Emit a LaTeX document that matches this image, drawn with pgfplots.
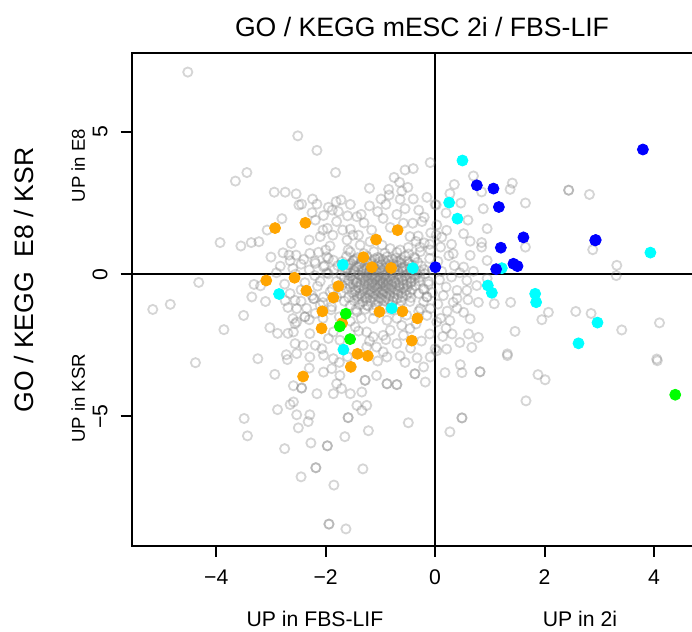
\documentclass[border=0pt]{standalone}
\usepackage{fontspec}
\setmainfont{Liberation Sans}
\usepackage{pgfplots}
\pgfplotsset{compat=1.18}

\definecolor{rorange}{RGB}{255,165,0}
\definecolor{rgreen}{RGB}{0,255,0}
\definecolor{rcyan}{RGB}{0,255,255}
\definecolor{rblue}{RGB}{0,0,255}

% background cloud of terms (grey open circles)
\pgfplotstableread{
x y
-4.52 7.10
-2.51 4.86
-3.65 3.27
-3.44 3.57
-2.94 2.88
-2.74 2.88
-2.54 2.82
-2.49 2.43
-3.07 1.55
-3.93 1.11
-3.55 0.99
-3.36 1.11
-3.22 1.14
-2.63 1.08
-2.78 0.75
-2.67 0.67
-2.54 0.67
-2.65 0.47
-2.83 0.28
-4.32 -0.29
-3.31 -0.36
-3.19 -0.41
-5.16 -1.24
-4.84 -1.06
-3.86 -1.95
-4.38 -3.11
-3.10 -0.96
-3.02 -1.88
-2.88 -2.08
-2.69 -2.08
-3.24 -2.97
-2.72 -2.83
-2.93 -3.52
-2.59 -3.92
-2.65 -4.58
-2.88 -4.76
-3.49 -5.07
-3.43 -5.68
-2.75 -6.13
-2.74 -0.93
-2.69 -1.17
-2.60 -1.56
-2.56 -1.74
-2.56 -2.44
-2.53 -4.94
-2.32 -5.18
-2.50 -5.40
-1.59 -5.04
-1.59 -5.04
-2.27 -5.93
-1.97 -6.03
-1.97 -6.03
-1.65 -5.71
-1.22 -5.50
-0.49 -5.22
-2.18 -6.80
-2.18 -6.80
-2.45 -7.12
-1.32 -6.84
-1.85 -7.41
-1.94 -8.78
-1.94 -8.78
-1.63 -8.95
0.46 -3.18
0.18 -3.46
0.49 -3.46
0.82 -3.43
0.82 -3.43
1.32 -2.86
1.88 -3.53
2.01 -3.71
1.66 -4.45
0.49 -5.05
0.49 -5.05
0.27 -5.54
4.06 -3.04
4.05 -2.98
-2.16 4.35
-1.82 3.57
-1.20 3.02
-0.09 3.92
-0.55 3.66
-0.40 3.71
-0.75 3.40
-0.65 3.23
-0.85 2.98
-0.61 2.92
-0.99 2.64
-0.84 2.78
-0.40 2.64
-0.64 2.63
-2.44 2.46
-2.24 2.64
-2.16 2.46
-2.25 2.16
-2.04 2.06
-1.95 2.35
-1.81 2.55
-1.72 2.61
-1.77 2.20
-1.88 2.25
-1.43 2.02
-2.19 1.90
-1.97 1.61
-2.10 1.32
-1.87 1.37
-1.69 1.55
-1.55 1.58
-1.50 1.37
-1.61 1.20
-1.40 1.37
-1.16 1.55
-0.95 1.96
-0.82 1.64
-0.58 1.79
-0.41 1.79
-0.24 1.85
-0.46 1.32
-0.31 1.34
-2.29 0.73
-2.13 0.77
-1.92 0.99
-1.98 0.61
-1.86 0.49
-2.19 0.38
-2.04 0.26
-1.59 0.85
-1.37 1.02
-1.19 1.14
-0.97 1.02
-0.82 0.90
-0.64 0.85
-0.49 0.94
-0.27 0.79
-0.09 0.85
-0.37 0.55
-1.49 0.49
-1.25 0.44
-1.01 0.55
-0.70 0.44
0.02 2.43
0.03 1.73
0.02 1.37
1.41 3.20
1.37 2.98
2.44 2.95
2.44 2.95
2.82 2.80
1.65 2.50
0.88 2.30
0.47 2.50
0.27 2.83
0.85 2.89
0.00 2.45
0.95 1.60
0.52 1.42
0.64 1.16
0.21 1.54
0.85 1.11
1.65 0.95
2.88 0.86
3.32 0.31
3.31 -0.05
0.33 0.72
0.64 0.66
0.95 0.48
0.52 0.25
0.58 -0.22
0.76 -0.40
0.40 -0.57
0.58 -0.57
0.79 -0.99
1.08 -1.04
1.38 -0.99
0.52 -1.34
0.33 -0.99
0.27 -1.63
0.64 -1.57
2.07 -1.34
1.95 -1.60
2.57 -1.31
2.85 -1.38
3.41 -1.96
4.10 -1.71
1.46 -2.01
0.79 -2.22
0.61 -2.10
0.31 -2.10
0.14 -2.19
0.21 -2.63
0.67 -2.57
1.32 -2.80
0.03 -2.69
-2.38 -1.50
-2.38 -1.50
-2.19 -1.38
-2.53 -1.68
-2.59 -2.03
-2.29 -2.09
-2.41 -2.50
-2.53 -2.79
-2.19 -2.50
-2.04 -2.85
-1.86 -2.97
-1.89 -3.32
-2.04 -3.44
-1.74 -3.56
-1.80 -3.85
-2.44 -4.00
-2.44 -4.00
-2.16 -4.20
-1.86 -4.20
-1.71 -4.02
-1.55 -4.20
-1.34 -4.14
-1.28 -3.73
-1.28 -3.73
-1.07 -3.56
-0.88 -3.85
-0.88 -3.85
-0.70 -3.88
-0.70 -3.88
-0.88 -2.91
-0.64 -2.87
-0.37 -3.50
-0.37 -3.50
-0.18 -3.79
-0.21 -3.26
-0.33 -2.94
-0.09 -2.91
-1.43 -4.61
-1.25 -4.61
-1.34 -4.79
-2.59 -4.49
-2.29 -4.94
-1.46 -1.85
-1.25 -2.03
-1.13 -2.20
-0.95 -2.15
-0.82 -1.97
-0.61 -1.80
-0.46 -1.91
-0.58 -2.15
-0.70 -2.44
-1.07 -2.56
-1.25 -2.56
-0.95 -2.73
-1.74 -2.32
-1.86 -2.03
-1.95 -2.26
-2.07 -2.62
-2.29 -2.91
-2.53 -1.21
-2.65 -0.68
-2.56 -0.92
-2.22 -0.86
-2.22 -0.86
-2.04 -0.80
-2.10 -1.09
-1.89 -1.15
-1.43 -1.32
-1.25 -1.09
-1.13 -1.56
-0.88 -1.62
-0.52 -1.44
-0.21 -0.97
-0.15 -0.80
-0.15 -0.80
-0.09 -1.21
-0.27 -1.21
0.00 -2.62
0.03 -1.68
-2.45 0.35
-2.30 0.15
-2.20 -0.05
-2.38 -0.30
-2.15 -0.42
-2.02 0.30
-1.98 0.05
-2.10 -0.25
-1.92 -0.62
-2.25 -0.75
-2.45 -0.95
-2.05 -1.00
-1.90 -1.25
-2.35 -1.20
-2.75 -0.35
-2.90 0.05
-2.60 0.20
-2.40 0.52
-2.20 0.45
-1.95 0.55
-2.00 0.85
0.05 0.45
0.12 0.10
0.08 -0.20
0.20 -0.45
0.15 -0.75
0.30 -0.10
0.35 0.30
0.25 0.65
0.10 0.95
0.40 -0.85
0.05 -1.05
0.22 -1.30
0.12 1.30
0.30 1.05
0.45 0.05
0.10 -1.55
-0.10 0.55
-0.20 1.10
-0.08 1.45
-0.35 1.15
-0.12 -0.35
-0.05 -0.65
-0.20 -0.55
-0.15 -1.45
-0.35 -1.75
-0.10 -2.10
-0.25 -2.35
-0.45 -2.60
-0.05 0.15
-0.28 0.95
-1.30 1.80
-1.05 2.20
-0.70 2.10
-1.20 2.40
-0.30 2.25
-0.15 2.70
-0.50 3.05
-1.55 2.45
-2.30 1.20
-2.05 1.55
-1.80 1.85
-1.60 2.05
-1.35 2.10
-0.90 2.45
-0.55 2.30
-0.20 2.00
-0.10 1.05
-2.45 -0.55
-2.55 0.00
-2.30 -1.60
-2.05 -1.55
-1.75 -1.50
-1.55 -1.65
-1.35 -1.55
-0.70 -1.55
-0.30 -1.30
-1.40 -2.00
-1.20 -2.35
-0.90 -2.30
-1.60 -2.90
-1.05 -3.05
-0.55 -3.10
-1.75 -3.10
-2.30 -3.30
-2.70 -3.00
0.20 -1.90
0.40 -1.20
0.60 -0.90
0.70 0.10
0.85 0.95
0.60 1.90
0.20 2.15
0.35 3.15
0.70 3.45
0.95 -0.15
0.45 -2.40
-2.80 1.95
-3.00 0.60
-3.35 -0.80
-3.50 -1.45
-1.55 0.78
-1.30 0.72
-1.12 0.79
-0.92 0.74
-0.70 0.77
-0.48 0.71
-1.62 0.62
-1.42 0.58
-1.25 0.63
-1.05 0.59
-0.88 0.61
-0.72 0.57
-0.55 0.63
-0.38 0.60
-1.70 0.44
-1.50 0.47
-1.35 0.42
-1.18 0.46
-1.02 0.43
-0.85 0.48
-0.66 0.44
-0.50 0.46
-0.32 0.42
-1.78 0.30
-1.58 0.32
-1.44 0.27
-1.28 0.31
-1.12 0.28
-0.98 0.33
-0.83 0.29
-0.70 0.31
-0.56 0.27
-0.42 0.32
-0.25 0.29
-1.85 0.15
-1.62 0.17
-1.48 0.13
-1.34 0.16
-1.20 0.12
-1.07 0.17
-0.95 0.14
-0.82 0.16
-0.68 0.12
-0.52 0.17
-0.38 0.14
-0.20 0.16
-1.95 0.01
-1.72 -0.02
-1.55 0.03
-1.40 -0.01
-1.27 0.02
-1.15 -0.03
-1.03 0.01
-0.92 -0.02
-0.80 0.03
-0.66 -0.01
-0.50 0.02
-0.34 -0.02
-0.18 0.01
-1.66 -0.12
-1.46 -0.14
-1.32 -0.10
-1.22 -0.13
-1.10 -0.11
-0.99 -0.14
-0.88 -0.10
-0.76 -0.13
-0.62 -0.11
-0.45 -0.14
-0.28 -0.10
-1.80 -0.25
-1.58 -0.23
-1.42 -0.27
-1.28 -0.24
-1.16 -0.26
-1.05 -0.23
-0.96 -0.27
-0.86 -0.24
-0.74 -0.26
-0.60 -0.23
-0.44 -0.27
-0.30 -0.24
-0.12 -0.26
-1.70 -0.38
-1.50 -0.36
-1.36 -0.40
-1.22 -0.37
-1.10 -0.39
-1.00 -0.36
-0.90 -0.40
-0.79 -0.37
-0.66 -0.39
-0.52 -0.36
-0.36 -0.40
-1.88 -0.52
-1.63 -0.50
-1.45 -0.54
-1.30 -0.51
-1.18 -0.53
-1.06 -0.50
-0.95 -0.54
-0.84 -0.51
-0.72 -0.53
-0.58 -0.50
-0.42 -0.54
-0.22 -0.51
-1.72 -0.66
-1.52 -0.64
-1.37 -0.68
-1.24 -0.65
-1.12 -0.67
-1.00 -0.64
-0.88 -0.68
-0.75 -0.65
-0.62 -0.67
-0.46 -0.64
-0.30 -0.68
-1.80 -0.80
-1.58 -0.82
-1.42 -0.78
-1.28 -0.81
-1.14 -0.79
-1.02 -0.82
-0.90 -0.78
-0.76 -0.81
-0.60 -0.79
-0.44 -0.82
-1.66 -0.95
-1.48 -0.93
-1.32 -0.97
-1.18 -0.94
-1.04 -0.96
-0.92 -0.93
-0.78 -0.97
-0.62 -0.94
-0.46 -0.96
-1.55 -1.10
-1.38 -1.08
-1.22 -1.12
-1.08 -1.09
-0.95 -1.11
-0.80 -1.08
-0.64 -1.12
-1.45 -1.25
-1.28 -1.23
-1.12 -1.27
-0.96 -1.24
-0.80 -1.26
-1.45 0.53
-1.28 0.50
-1.10 0.54
-0.95 0.51
-0.78 0.53
-0.62 0.50
-1.55 0.38
-1.38 0.36
-1.20 0.39
-1.05 0.36
-0.90 0.38
-0.76 0.35
-0.62 0.39
-0.48 0.36
-1.60 0.22
-1.40 0.24
-1.25 0.21
-1.13 0.23
-1.00 0.20
-0.88 0.24
-0.74 0.21
-0.60 0.23
-0.46 0.20
-1.64 0.08
-1.46 0.06
-1.32 0.09
-1.20 0.07
-1.08 0.10
-0.97 0.06
-0.86 0.09
-0.74 0.07
-0.60 0.10
-0.44 0.06
-0.28 0.09
-1.55 -0.06
-1.38 -0.04
-1.26 -0.07
-1.16 -0.05
-1.04 -0.08
-0.93 -0.05
-0.82 -0.07
-0.70 -0.04
-0.55 -0.07
-0.38 -0.05
-1.50 -0.19
-1.34 -0.17
-1.22 -0.20
-1.10 -0.18
-1.00 -0.21
-0.91 -0.17
-0.80 -0.20
-0.67 -0.18
-0.52 -0.21
-0.37 -0.17
-1.60 -0.32
-1.44 -0.30
-1.29 -0.33
-1.16 -0.31
-1.05 -0.34
-0.95 -0.30
-0.85 -0.33
-0.72 -0.31
-0.58 -0.34
-0.44 -0.30
-1.55 -0.45
-1.40 -0.47
-1.24 -0.44
-1.12 -0.46
-1.01 -0.43
-0.90 -0.47
-0.78 -0.44
-0.65 -0.46
-0.50 -0.43
-1.46 -0.59
-1.30 -0.57
-1.18 -0.60
-1.06 -0.58
-0.94 -0.61
-0.82 -0.57
-0.68 -0.60
-0.54 -0.58
-1.48 -0.73
-1.34 -0.75
-1.20 -0.72
-1.08 -0.74
-0.96 -0.71
-0.83 -0.75
-0.68 -0.72
-0.52 -0.74
-1.40 -0.88
-1.25 -0.86
-1.10 -0.89
-0.98 -0.87
-0.85 -0.90
-0.70 -0.86
}\greytab

\pgfplotstableread{
x y
-2.925 1.620
-2.371 1.803
-0.686 1.546
-1.079 1.215
-1.311 0.595
-1.157 0.243
-0.804 0.218
-3.086 -0.222
-2.569 -0.127
-2.353 -0.581
-1.768 -0.423
-1.859 -0.820
-2.060 -1.306
-2.075 -1.905
-1.018 -1.324
-0.598 -1.306
-0.324 -1.553
-0.426 -2.335
-1.700 -1.718
-1.420 -2.799
-1.230 -2.873
-1.541 -3.257
-2.413 -3.595
}\orangetab

\pgfplotstableread{
x y
-1.633 -1.391
-1.742 -1.835
-1.554 -2.282
4.388 -4.236
}\greentab

\pgfplotstableread{
x y
0.499 3.993
0.256 2.514
0.408 1.951
-1.687 0.331
-0.408 0.211
-2.852 -0.697
-0.792 -1.197
-1.676 -2.651
1.219 0.211
0.963 -0.398
1.037 -0.655
1.828 -0.690
1.846 -0.986
2.967 -1.701
2.620 -2.430
3.934 0.757
}\cyantab

\pgfplotstableread{
x y
0.762 3.123
1.066 3.007
1.165 2.359
1.614 1.292
1.201 0.930
2.925 1.187
2.935 1.200
3.797 4.380
0.004 0.246
1.115 0.176
1.431 0.366
1.505 0.282
}\bluetab

\begin{document}
\begin{tikzpicture}[x=0.5pt,y=0.5pt]
\begin{axis}[
  at={(65.85pt,43pt)}, anchor=south west,
  scale only axis,
  width=290.15pt, height=246.5pt,
  xmin=-5.545, xmax=5.06,
  ymin=-9.55, ymax=7.77,
  axis line style={line width=1pt},
  xtick={-4,-2,0,2,4},
  xticklabels={−4,−2,0,2,4},
  ytick={-5,0,5},
  yticklabels={−5,0,5},
  tick pos=left,
  tick align=outside,
  major tick length=5.5pt,
  tick style={line width=1pt, black},
  tick label style={font=\fontsize{10.6}{12}\selectfont},
  yticklabel style={rotate=90, anchor=south},
  xticklabel shift=3pt,
  yticklabel shift=3pt,
]
\addplot[only marks, mark=o, mark size=2.3pt,
  mark options={draw=black!50, line width=0.9pt, draw opacity=0.33}]
  table[x=x, y=y] {\greytab};
\draw[line width=1pt] (axis cs:0,-9.55) -- (axis cs:0,7.77);
\draw[line width=1pt] (axis cs:-5.545,0) -- (axis cs:5.06,0);
\addplot[only marks, mark=*, mark size=2.75pt, color=rorange]
  table[x=x, y=y] {\orangetab};
\addplot[only marks, mark=*, mark size=2.75pt, color=rgreen]
  table[x=x, y=y] {\greentab};
\addplot[only marks, mark=*, mark size=2.75pt, color=rcyan]
  table[x=x, y=y] {\cyantab};
\addplot[only marks, mark=*, mark size=2.75pt, color=rblue]
  table[x=x, y=y] {\bluetab};
\end{axis}

\node[anchor=base, font=\fontsize{13.3}{16}\selectfont] at (422,595) {GO / KEGG mESC 2i / FBS-LIF};
\node[rotate=90, font=\fontsize{13.3}{16}\selectfont] at (24,352) {GO / KEGG\ \ E8 / KSR};
\node[rotate=90, anchor=base, font=\fontsize{9.3}{11}\selectfont] at (85,466.5) {UP in E8};
\node[rotate=90, anchor=base, font=\fontsize{9.3}{11}\selectfont] at (85,233.5) {UP in KSR};
\node[anchor=base, font=\fontsize{10.6}{12}\selectfont] at (315,5) {UP in FBS-LIF};
\node[anchor=base, font=\fontsize{10.6}{12}\selectfont] at (580,5) {UP in 2i};

\pgfresetboundingbox
\useasboundingbox (0,0) rectangle (692,632);
\end{tikzpicture}
\end{document}
